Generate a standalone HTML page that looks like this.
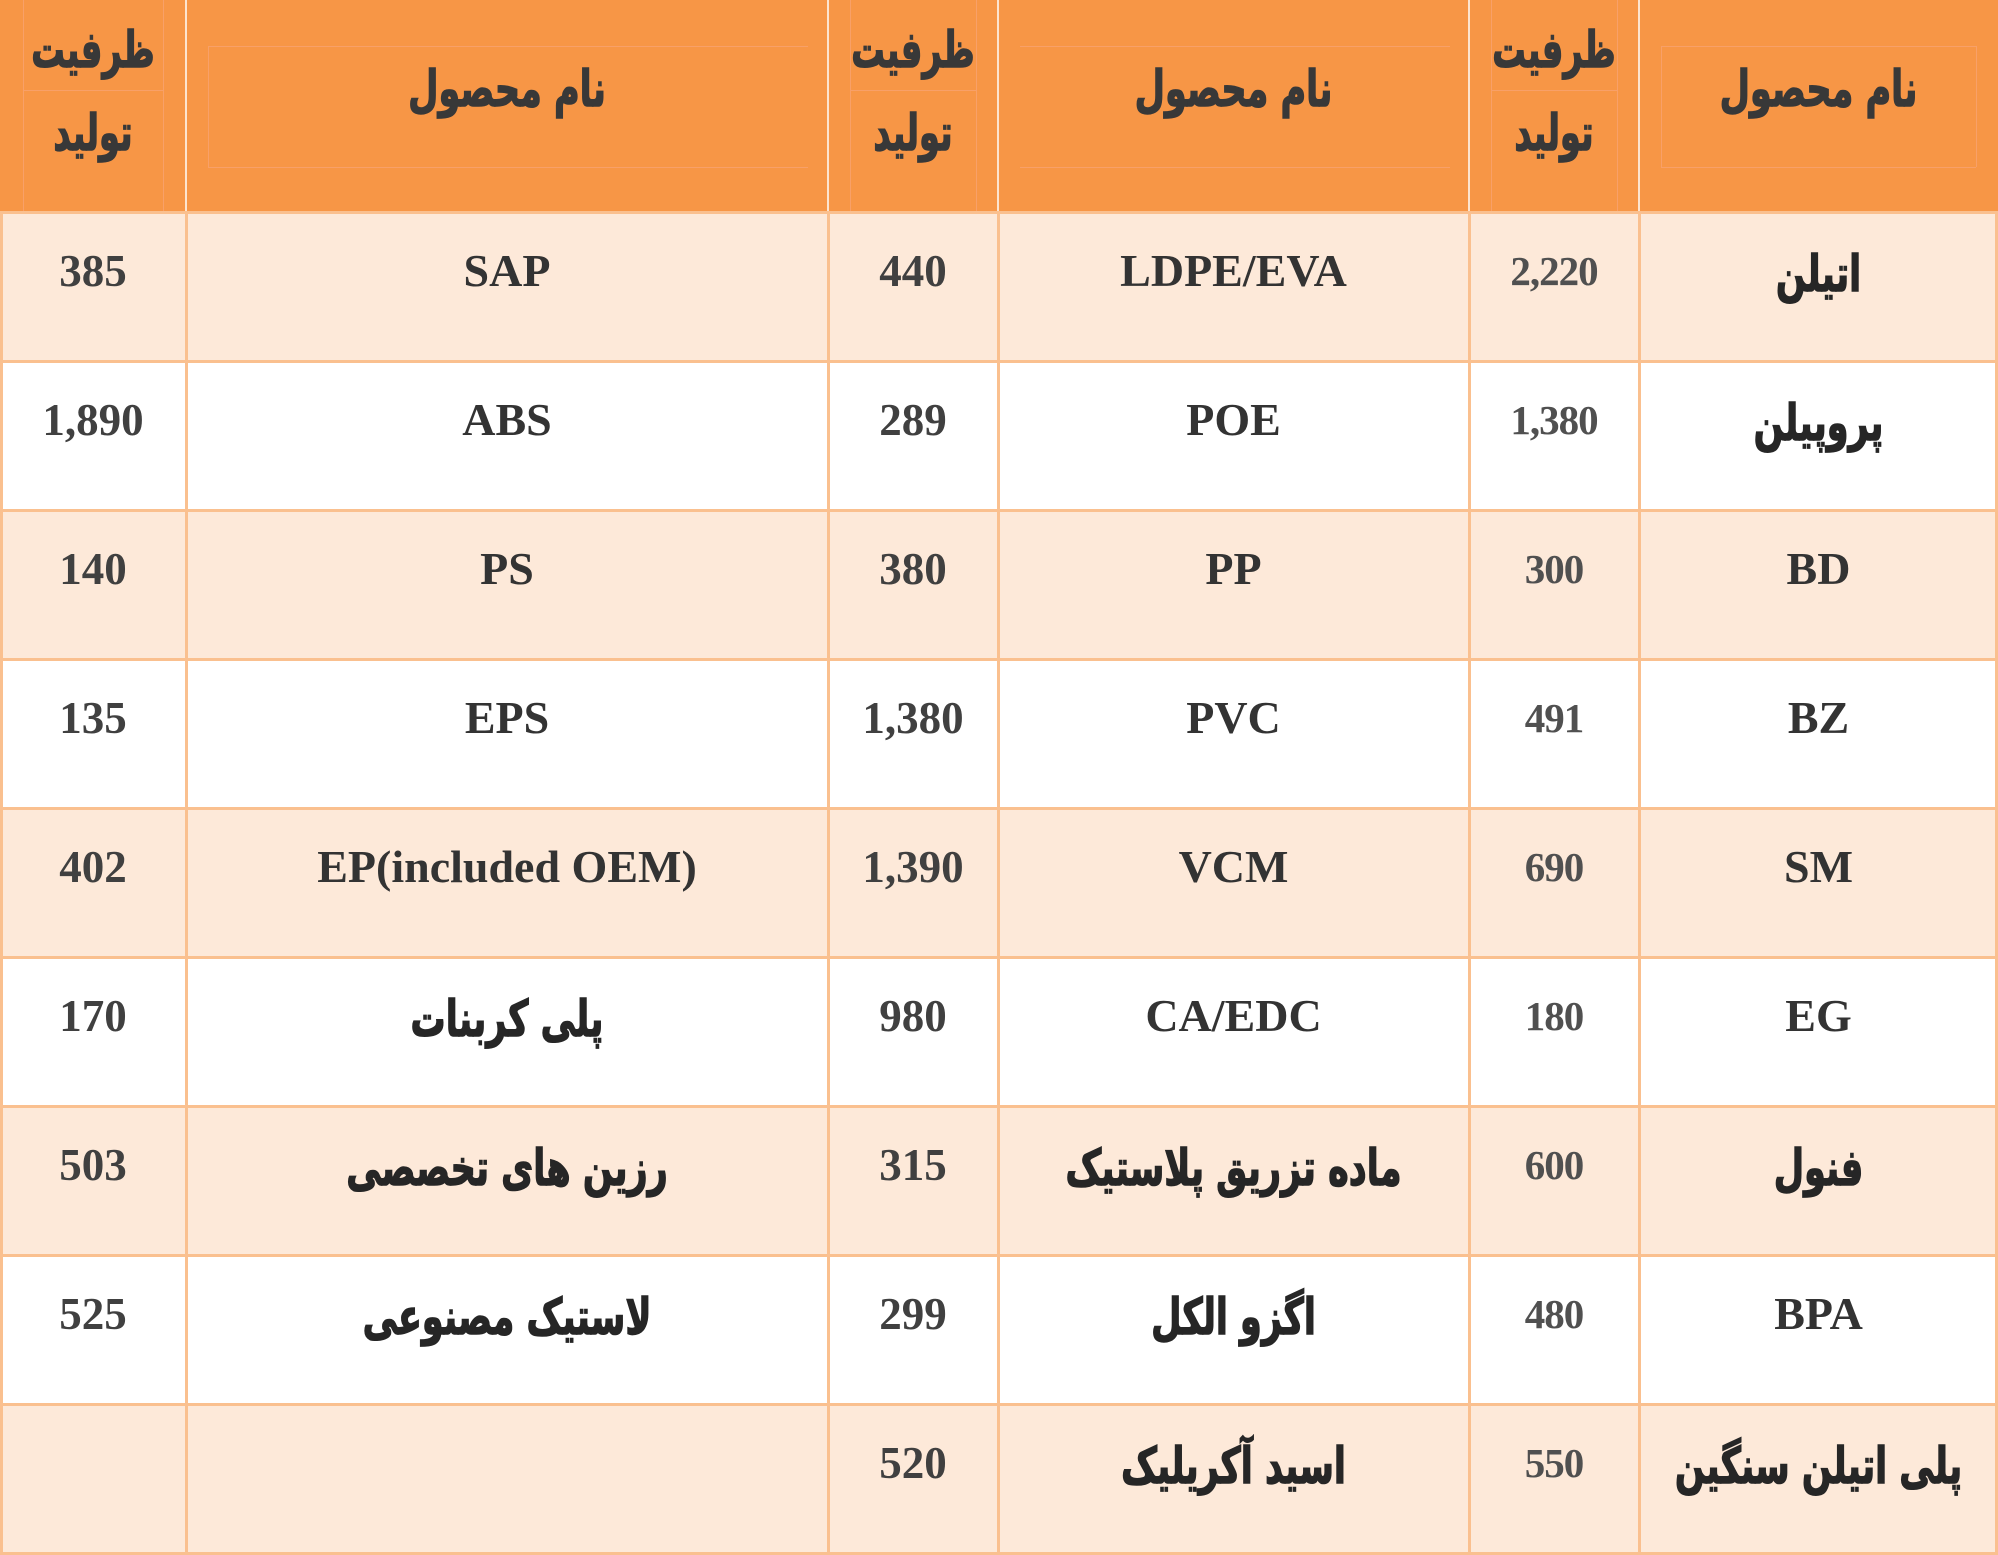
<!DOCTYPE html>
<html>
<head>
<meta charset="utf-8">
<style>
html,body{margin:0;padding:0;}
body{width:1998px;height:1555px;position:relative;overflow:hidden;background:#fff;}
.bg{position:absolute;left:0;width:1998px;}
.hdr{top:0;height:212px;background:#f79646;}
.st{background:#fde9d9;height:149px;}
.vl{position:absolute;top:212px;height:1343px;width:3px;background:#fac08f;}
.hl{position:absolute;left:0;width:1998px;height:3px;background:#fac08f;}
.hv{position:absolute;top:0;height:212px;width:2px;background:#fde4cf;}
.fl{position:absolute;background:#f8a068;}
.cell{position:absolute;height:118px;display:flex;align-items:center;justify-content:center;white-space:nowrap;line-height:1;}
.c0{left:0;width:186px}.c1{left:186px;width:642px}.c2{left:828px;width:170px}
.c3{left:998px;width:471px}.c4{left:1469px;width:170px}.c5{left:1639px;width:359px}
.n{font-family:"Liberation Serif",serif;font-weight:bold;font-size:45px;color:#404040;}
.n4{font-family:"Liberation Serif",serif;font-weight:bold;font-size:41px;color:#505050;letter-spacing:-1px;}
.l{font-family:"Liberation Serif",serif;font-weight:bold;font-size:46px;color:#333;}
.p{font-family:"DejaVu Sans",sans-serif;font-weight:bold;font-size:50px;color:#262626;direction:rtl;transform:scaleX(0.7);-webkit-text-stroke:1.5px #262626;box-sizing:border-box;padding-top:6px;}
.h{font-family:"DejaVu Sans",sans-serif;font-weight:bold;font-size:50px;color:#383838;direction:rtl;transform:scaleX(0.7);-webkit-text-stroke:1.5px #383838;}
.hn{transform:scaleX(0.67);}
</style>
</head>
<body>
<div class="bg hdr"></div>
<div class="bg st" style="top:212px"></div>
<div class="bg st" style="top:510px"></div>
<div class="bg st" style="top:808px"></div>
<div class="bg st" style="top:1106px"></div>
<div class="bg st" style="top:1404px"></div>

<!-- faint header inner lines -->
<div class="fl" style="left:208px;top:46px;width:600px;height:1px"></div>
<div class="fl" style="left:208px;top:167px;width:600px;height:1px"></div>
<div class="fl" style="left:208px;top:46px;width:1px;height:121px"></div>
<div class="fl" style="left:23px;top:0;width:1px;height:212px"></div>
<div class="fl" style="left:163px;top:0;width:1px;height:212px"></div>
<div class="fl" style="left:23px;top:90px;width:140px;height:1px"></div>
<div class="fl" style="left:1020px;top:46px;width:430px;height:1px"></div>
<div class="fl" style="left:1020px;top:167px;width:430px;height:1px"></div>
<div class="fl" style="left:1661px;top:46px;width:315px;height:1px"></div>
<div class="fl" style="left:1661px;top:167px;width:315px;height:1px"></div>
<div class="fl" style="left:1661px;top:46px;width:1px;height:121px"></div>
<div class="fl" style="left:1976px;top:46px;width:1px;height:121px"></div>
<div class="fl" style="left:1491px;top:0;width:1px;height:212px"></div>
<div class="fl" style="left:1617px;top:0;width:1px;height:212px"></div>
<div class="fl" style="left:1491px;top:90px;width:126px;height:1px"></div>
<div class="fl" style="left:850px;top:0;width:1px;height:212px"></div>
<div class="fl" style="left:976px;top:0;width:1px;height:212px"></div>
<div class="fl" style="left:850px;top:90px;width:126px;height:1px"></div>

<!-- header vertical lines -->
<div class="hv" style="left:185px"></div>
<div class="hv" style="left:827px"></div>
<div class="hv" style="left:997px"></div>
<div class="hv" style="left:1468px"></div>
<div class="hv" style="left:1638px"></div>

<!-- body grid lines -->
<div class="vl" style="left:0"></div>
<div class="vl" style="left:185px"></div>
<div class="vl" style="left:827px"></div>
<div class="vl" style="left:997px"></div>
<div class="vl" style="left:1468px"></div>
<div class="vl" style="left:1638px"></div>
<div class="vl" style="left:1995px"></div>
<div class="hl" style="top:211px"></div>
<div class="hl" style="top:360px"></div>
<div class="hl" style="top:509px"></div>
<div class="hl" style="top:658px"></div>
<div class="hl" style="top:807px"></div>
<div class="hl" style="top:956px"></div>
<div class="hl" style="top:1105px"></div>
<div class="hl" style="top:1254px"></div>
<div class="hl" style="top:1403px"></div>
<div class="hl" style="top:1552px"></div>

<!-- header text -->
<div class="cell c0 h hn" style="top:20px;height:60px">ظرفیت</div>
<div class="cell c0 h hn" style="top:103px;height:60px">تولید</div>
<div class="cell c2 h hn" style="top:20px;height:60px">ظرفیت</div>
<div class="cell c2 h hn" style="top:103px;height:60px">تولید</div>
<div class="cell c4 h hn" style="top:20px;height:60px">ظرفیت</div>
<div class="cell c4 h hn" style="top:103px;height:60px">تولید</div>
<div class="cell c1 h" style="top:54px;height:70px">نام محصول</div>
<div class="cell c3 h" style="top:54px;height:70px">نام محصول</div>
<div class="cell c5 h" style="top:54px;height:70px">نام محصول</div>

<!-- row 1 -->
<div class="cell c5 p" style="top:212px">اتیلن</div>
<div class="cell c4 n4" style="top:212px">2,220</div>
<div class="cell c3 l" style="top:212px">LDPE/EVA</div>
<div class="cell c2 n" style="top:212px">440</div>
<div class="cell c1 l" style="top:212px">SAP</div>
<div class="cell c0 n" style="top:212px">385</div>
<!-- row 2 -->
<div class="cell c5 p" style="top:361px">پروپیلن</div>
<div class="cell c4 n4" style="top:361px">1,380</div>
<div class="cell c3 l" style="top:361px">POE</div>
<div class="cell c2 n" style="top:361px">289</div>
<div class="cell c1 l" style="top:361px">ABS</div>
<div class="cell c0 n" style="top:361px">1,890</div>
<!-- row 3 -->
<div class="cell c5 l" style="top:510px">BD</div>
<div class="cell c4 n4" style="top:510px">300</div>
<div class="cell c3 l" style="top:510px">PP</div>
<div class="cell c2 n" style="top:510px">380</div>
<div class="cell c1 l" style="top:510px">PS</div>
<div class="cell c0 n" style="top:510px">140</div>
<!-- row 4 -->
<div class="cell c5 l" style="top:659px">BZ</div>
<div class="cell c4 n4" style="top:659px">491</div>
<div class="cell c3 l" style="top:659px">PVC</div>
<div class="cell c2 n" style="top:659px">1,380</div>
<div class="cell c1 l" style="top:659px">EPS</div>
<div class="cell c0 n" style="top:659px">135</div>
<!-- row 5 -->
<div class="cell c5 l" style="top:808px">SM</div>
<div class="cell c4 n4" style="top:808px">690</div>
<div class="cell c3 l" style="top:808px">VCM</div>
<div class="cell c2 n" style="top:808px">1,390</div>
<div class="cell c1 l" style="top:808px">EP(included OEM)</div>
<div class="cell c0 n" style="top:808px">402</div>
<!-- row 6 -->
<div class="cell c5 l" style="top:957px">EG</div>
<div class="cell c4 n4" style="top:957px">180</div>
<div class="cell c3 l" style="top:957px">CA/EDC</div>
<div class="cell c2 n" style="top:957px">980</div>
<div class="cell c1 p" style="top:957px">پلی کربنات</div>
<div class="cell c0 n" style="top:957px">170</div>
<!-- row 7 -->
<div class="cell c5 p" style="top:1106px">فنول</div>
<div class="cell c4 n4" style="top:1106px">600</div>
<div class="cell c3 p" style="top:1106px">ماده تزریق پلاستیک</div>
<div class="cell c2 n" style="top:1106px">315</div>
<div class="cell c1 p" style="top:1106px">رزین های تخصصی</div>
<div class="cell c0 n" style="top:1106px">503</div>
<!-- row 8 -->
<div class="cell c5 l" style="top:1255px">BPA</div>
<div class="cell c4 n4" style="top:1255px">480</div>
<div class="cell c3 p" style="top:1255px">اگزو الکل</div>
<div class="cell c2 n" style="top:1255px">299</div>
<div class="cell c1 p" style="top:1255px">لاستیک مصنوعی</div>
<div class="cell c0 n" style="top:1255px">525</div>
<!-- row 9 -->
<div class="cell c5 p" style="top:1404px">پلی اتیلن سنگین</div>
<div class="cell c4 n4" style="top:1404px">550</div>
<div class="cell c3 p" style="top:1404px">اسید آکریلیک</div>
<div class="cell c2 n" style="top:1404px">520</div>
</body>
</html>
